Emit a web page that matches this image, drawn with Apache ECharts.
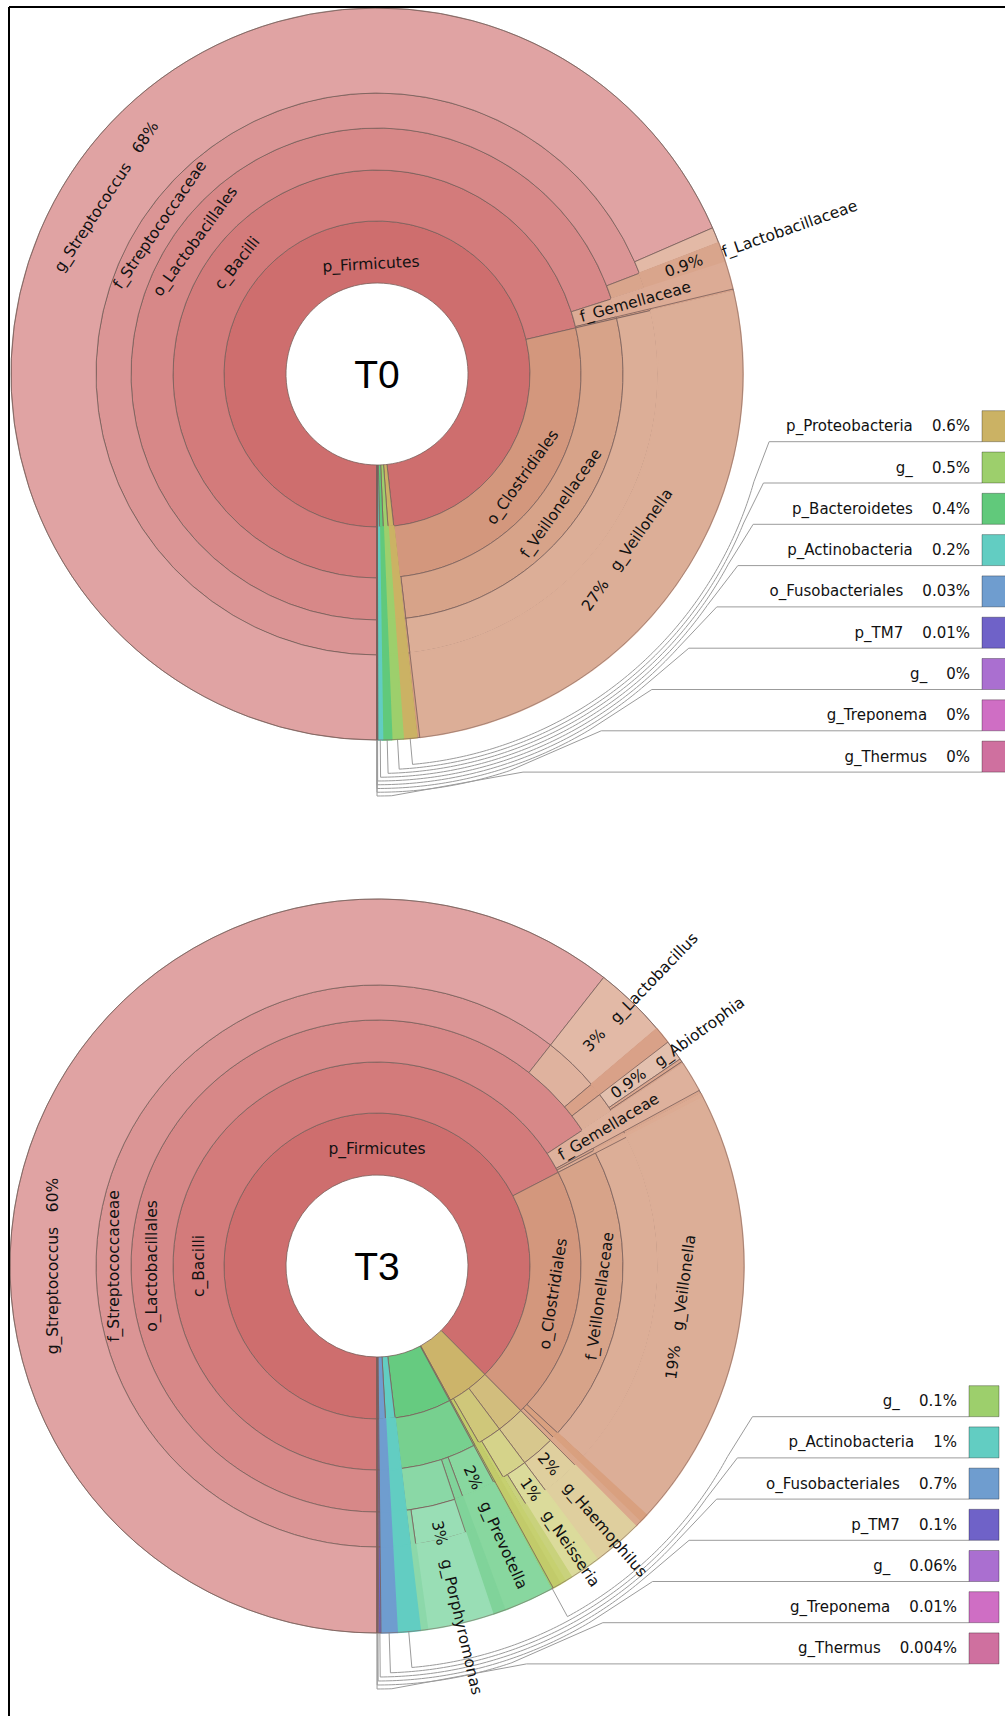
<!DOCTYPE html>
<html>
<head>
<meta charset="utf-8">
<script src="https://cdn.jsdelivr.net/npm/echarts@6/dist/echarts.min.js"></script>
<style>
  html, body { margin: 0; padding: 0; background: #fff; }
  #main { width: 1005px; height: 1716px; }
</style>
</head>
<body>
<div id="main"></div>
<script>
// ---- T0 taxonomy (percent of reads) ----
var t0Ids = ['fir', 'bac', 'lac', 'stc', 'str', 'stx', 'lbc', 'gem', 'bax', 'clo', 'vei', 'vel', 'clx',
  'pro', 'ung', 'bcd', 'act', 'fus', 'tm7', 'unp', 'tre', 'the'];
var t0Names = ['p_Firmicutes', 'c_Bacilli', 'o_Lactobacillales', 'f_Streptococcaceae', 'g_Streptococcus', 'g_',
  'f_Lactobacillaceae', 'f_Gemellaceae', 'o_', 'o_Clostridiales', 'f_Veillonellaceae', 'g_Veillonella', 'f_',
  'p_Proteobacteria', 'g_', 'p_Bacteroidetes', 'p_Actinobacteria', 'o_Fusobacteriales', 'p_TM7', 'g_',
  'g_Treponema', 'g_Thermus'];
var t0Parents = [null, 'fir', 'bac', 'lac', 'stc', 'stc', 'lac', 'bac', 'bac', 'fir', 'clo', 'vei', 'clo',
  null, null, null, null, null, null, null, null, null];
var t0Values = [null, null, null, null, 68.3, 0.7, 0.9, 1.2, 0.1, null, null, 26.7, 0.12,
  0.6, 0.5, 0.4, 0.2, 0.03, 0.01, 0.0004, 0.0003, 0.0003];
var t0Key = ['pro', 'ung', 'bcd', 'act', 'fus', 'tm7', 'unp', 'tre', 'the'];

// ---- T3 taxonomy (percent of reads) ----
var t3Ids = ['fir', 'bac', 'lac', 'stc', 'str', 'lbc', 'lbs', 'lfx', 'car', 'abi', 'cax', 'cay', 'gem', 'bax', 'bay',
  'clo', 'vei', 'vel', 'clx', 'cly',
  'pro', 'gam', 'pas', 'hae', 'bet', 'nei', 'nes', 'nex', 'bex', 'prx',
  'ung', 'bcd', 'bdi', 'pre', 'bdx', 'por', 'pph', 'pox',
  'act', 'fus', 'tm7', 'unp', 'tre', 'the'];
var t3Names = ['p_Firmicutes', 'c_Bacilli', 'o_Lactobacillales', 'f_Streptococcaceae', 'g_Streptococcus',
  'f_Lactobacillaceae', 'g_Lactobacillus', 'f_', 'f_Carnobacteriaceae', 'g_Abiotrophia', 'g_', 'g_',
  'f_Gemellaceae', 'o_', 'o_',
  'o_Clostridiales', 'f_Veillonellaceae', 'g_Veillonella', 'f_', 'f_',
  'p_Proteobacteria', 'c_Gammaproteobacteria', 'o_Pasteurellales', 'g_Haemophilus', 'c_Betaproteobacteria',
  'o_Neisseriales', 'g_Neisseria', 'g_', 'o_', 'c_',
  'g_', 'p_Bacteroidetes', 'c_Bacteroidia', 'g_Prevotella', 'o_', 'f_Porphyromonadaceae', 'g_Porphyromonas', 'g_',
  'p_Actinobacteria', 'o_Fusobacteriales', 'p_TM7', 'g_', 'g_Treponema', 'g_Thermus'];
var t3Parents = [null, 'fir', 'bac', 'lac', 'stc', 'lac', 'lbc', 'lac', 'lac', 'car', 'car', 'car', 'bac', 'bac', 'bac',
  'fir', 'clo', 'vei', 'clo', 'clo',
  null, 'pro', 'gam', 'pas', 'pro', 'bet', 'nei', 'nei', 'bet', 'pro',
  null, null, 'bcd', 'bdi', 'bdi', 'bdi', 'por', 'por',
  null, null, null, null, null, null];
var t3Values = [null, null, null, null, 60.4, null, 3.2, 0.75, null, 0.9, 0.14, 0.1, 1.35, 0.15, 0.2,
  null, null, 19.4, 0.4, 0.27,
  null, null, null, 2.2, null, null, 1.35, 0.32, 0.25, 0.35,
  0.1, null, null, 2.2, 0.55, null, 2.9, 0.32,
  1.0, 0.7, 0.1, 0.06, 0.01, 0.004];
var t3Key = ['ung', 'act', 'fus', 'tm7', 'unp', 'tre', 'the'];

// ---- colours ----
var t0Colors = {
  fir: '#ce6e6e', bac: '#d37b7b', lac: '#d78888', stc: '#db9595', str: '#e0a3a3', stx: '#e3b9a6',
  lbc: '#d9a58c', gem: '#dcab95', bax: '#d8a189', clo: '#d3977d', vei: '#d7a389', vel: '#dcae97', clx: '#d59c82',
  pro: '#cbb264', ung: '#9dcf6c', bcd: '#61c97b', act: '#62cdc2', fus: '#6f9dcf', tm7: '#6f62c8',
  unp: '#aa6fd0', tre: '#cf6ec4', the: '#cf709f'
};
var t3Colors = {
  fir: '#ce6e6e', bac: '#d37b7b', lac: '#d78888', stc: '#db9595', str: '#e0a3a3',
  lbc: '#dfb29e', lbs: '#e2b9a6', lfx: '#d9a188', car: '#dcae98', abi: '#e3c0ae', cax: '#dba78f', cay: '#d9a48b',
  gem: '#deb19c', bax: '#d9a68e', bay: '#dcab93',
  clo: '#d3977d', vei: '#d7a389', vel: '#dcae97', clx: '#d9a07f', cly: '#dba88c',
  pro: '#ccb46a', gam: '#d2bd7d', pas: '#d7c78d', hae: '#dfcf9e', bet: '#cfc77a', nei: '#d5d38a',
  nes: '#dbdb9b', nex: '#c9d27c', bex: '#c6d070', prx: '#c2cb6a',
  ung: '#9dcf6c', bcd: '#66cb80', bdi: '#77d08f', pre: '#88d79f', bdx: '#80d39a', por: '#8ad8a6',
  pph: '#99deb5', pox: '#8cd8aa',
  act: '#62cdc2', fus: '#6f9dcf', tm7: '#6f62c8', unp: '#aa6fd0', tre: '#cf6ec4', the: '#cf709f'
};

// ---- label placement (tan = along the ring, rad = along the radius) ----
var t0Labels = {
  fir: { t: 'tan', rOff: -12 }, bac: { t: 'tan' }, lac: { t: 'tan' }, stc: { t: 'tan' }, str: { t: 'tan', pct: true },
  lbc: { t: 'rad', pct: true, split: 21 }, gem: { t: 'rad', start: 7 },
  clo: { t: 'tan' }, vei: { t: 'tan' }, vel: { t: 'tan', pct: true }
};
var t3Labels = {
  fir: { t: 'tan', angle: 0, rOff: -5 }, bac: { t: 'tan', angle: 270 }, lac: { t: 'tan', angle: 270 },
  stc: { t: 'tan', angle: 270 }, str: { t: 'tan', angle: 270, pct: true },
  lbs: { t: 'rad', pct: true, start: 20 }, abi: { t: 'rad', pct: true, start: 10 }, gem: { t: 'rad', start: 9 },
  clo: { t: 'tan' }, vei: { t: 'tan' }, vel: { t: 'tan', pct: true },
  hae: { t: 'rad', pct: true, start: 4 }, nes: { t: 'rad', pct: true, start: 13 },
  pre: { t: 'rad', pct: true, start: 16 }, pph: { t: 'rad', pct: true, start: 16 }
};

var LABEL_FONT = '15.5px "DejaVu Sans"';
var KEY_FONT = '15px "DejaVu Sans"';
var GAP = '\u00a0\u00a0\u00a0';
var BORDER = '#7a5f5a';

var charts = [
  {
    title: 'T0', cx: 377, cy: 374, rings: [91, 153, 204, 246, 281, 366],
    ids: t0Ids, names: t0Names, parents: t0Parents, values: t0Values, colors: t0Colors, labels: t0Labels,
    key: t0Key, keyLine0: 441.7, keyStep: 41.3, boxX: 982, boxW: 31, boxH: 31, keyR0: 26, keyRStep: 3.75
  },
  {
    title: 'T3', cx: 377, cy: 1266, rings: [91, 153, 204, 246, 281, 367],
    ids: t3Ids, names: t3Names, parents: t3Parents, values: t3Values, colors: t3Colors, labels: t3Labels,
    key: t3Key, keyLine0: 1416.7, keyStep: 41.2, boxX: 969, boxW: 30, boxH: 31, keyR0: 32, keyRStep: 4
  }
];

function fmt(v) {
  if (v >= 1) return String(Math.round(v));
  if (v < 0.0005) return '0';
  return String(Number(v.toPrecision(1)));
}

// build the tree and the angles (clock degrees, 180 = six o'clock, clockwise)
function layoutTree(ids, names, parents, values) {
  var nodes = {}, roots = [];
  ids.forEach(function (id, i) {
    nodes[id] = { id: id, name: names[i], value: values[i], children: [] };
  });
  ids.forEach(function (id, i) {
    if (parents[i]) nodes[parents[i]].children.push(nodes[id]);
    else roots.push(nodes[id]);
  });
  function sum(n, depth) {
    n.depth = depth;
    if (n.children.length) {
      n.total = 0;
      n.children.forEach(function (c) { n.total += sum(c, depth + 1); });
    } else {
      n.total = n.value;
    }
    return n.total;
  }
  var grand = 0;
  roots.forEach(function (n) { grand += sum(n, 1); });
  function place(n, a0) {
    n.a0 = a0;
    n.a1 = a0 + n.total / grand * 360;
    var a = a0;
    n.children.forEach(function (c) { place(c, a); a = c.a1; });
  }
  var a = 180;
  roots.forEach(function (n) { place(n, a); a = n.a1; });
  return { nodes: nodes, roots: roots };
}

// leaves that stop early are carried out to the rim with same-coloured children
function ghost(v, color, d, maxDepth, thin) {
  var g = { name: '', value: v, itemStyle: thin ? { color: color } : { color: color, borderColor: color, borderWidth: 1.6 } };
  if (d < maxDepth) g.children = [ghost(v, color, d + 1, maxDepth, thin)];
  return g;
}

function toItem(n, colors, maxDepth) {
  var item = { name: n.name, itemStyle: { color: colors[n.id] } };
  if (n.children.length) {
    item.children = n.children.map(function (c) { return toItem(c, colors, maxDepth); });
  } else {
    item.value = n.value;
    var thin = (n.a1 - n.a0) < 0.6;
    if (n.depth < maxDepth) item.children = [ghost(n.value, colors[n.id], n.depth + 1, maxDepth, thin)];
  }
  return item;
}

function polar(cfg, r, deg) {
  var t = deg * Math.PI / 180;
  return [cfg.cx + r * Math.sin(t), cfg.cy - r * Math.cos(t)];
}

function textEl(p, rot, text, align) {
  return {
    type: 'text', x: p[0], y: p[1], rotation: rot, z: 100, silent: true,
    style: { text: text, font: LABEL_FONT, fill: '#111', textAlign: align, textVerticalAlign: 'middle' }
  };
}

function labelElements(cfg, lay) {
  var els = [];
  var R = cfg.rings[cfg.rings.length - 1];
  Object.keys(cfg.labels).forEach(function (id) {
    var n = lay.nodes[id], spec = cfg.labels[id];
    var r0 = cfg.rings[n.depth - 1];
    var r1 = n.children.length ? cfg.rings[n.depth] : R;
    var ang = spec.angle != null ? spec.angle : (n.a0 + n.a1) / 2;
    var t = ang * Math.PI / 180;
    var pct = fmt(n.total) + '%';
    if (spec.t === 'tan') {
      var dx = Math.cos(t), dy = Math.sin(t);
      var flip = dx < -1e-6 || (Math.abs(dx) <= 1e-6 && dy > 0);
      if (flip) { dx = -dx; dy = -dy; }
      var text = n.name;
      if (spec.pct) text = flip ? pct + GAP + n.name : n.name + GAP + pct;
      els.push(textEl(polar(cfg, (r0 + r1) / 2 + (spec.rOff || 0), ang), -Math.atan2(dy, dx), text, 'center'));
    } else {
      var rot = -Math.atan2(-Math.cos(t), Math.sin(t));
      if (spec.split) {
        // percentage inside the wedge, name running out past the rim
        els.push(textEl(polar(cfg, R - spec.split, ang), rot, pct, 'right'));
        els.push(textEl(polar(cfg, R, ang), rot, n.name, 'left'));
      } else {
        els.push(textEl(polar(cfg, r0 + spec.start, ang), rot, spec.pct ? pct + GAP + n.name : n.name, 'left'));
      }
    }
  });
  els.push({
    type: 'text', x: cfg.cx, y: cfg.cy, z: 100, silent: true,
    style: { text: cfg.title, font: '39px "Liberation Sans"', fill: '#000', textAlign: 'center', textVerticalAlign: 'middle' }
  });
  // thin rim around the whole chart
  els.push({
    type: 'circle', z: 50, silent: true, shape: { cx: cfg.cx, cy: cfg.cy, r: R },
    style: { fill: null, stroke: BORDER, lineWidth: 0.7, opacity: 0.8 }
  });
  return els;
}

function keyElements(cfg, lay) {
  var els = [];
  var R = cfg.rings[cfg.rings.length - 1];
  cfg.key.forEach(function (id, i) {
    var n = lay.nodes[id];
    var lineY = cfg.keyLine0 + i * cfg.keyStep;
    var ra = R + cfg.keyR0 + cfg.keyRStep * i;
    var tw = (((n.a0 + n.a1) / 2) % 360 + 360) % 360;
    var pts = [polar(cfg, R, tw), polar(cfg, ra, tw)];
    var c = (cfg.cy - (lineY + 40)) / ra;
    var tT = c < -1 ? tw - 2 : Math.min(tw - 2, Math.acos(c) * 180 / Math.PI);
    for (var a = tw; a > tT; a -= 0.5) pts.push(polar(cfg, ra, a));
    pts.push(polar(cfg, ra, tT));
    var dy = lineY - cfg.cy;
    var xs = cfg.cx + Math.sqrt(Math.max(ra * ra - dy * dy, 0)) + 6;
    pts.push([xs, lineY], [cfg.boxX, lineY]);
    els.push({
      type: 'polyline', shape: { points: pts }, z: 5, silent: true,
      style: { stroke: '#9b9b9b', lineWidth: 1, fill: null }
    });
    els.push({
      type: 'rect', z: 5, silent: true,
      shape: { x: cfg.boxX, y: lineY - cfg.boxH, width: cfg.boxW, height: cfg.boxH },
      style: { fill: cfg.colors[id], stroke: 'rgba(0,0,0,0.3)', lineWidth: 1 }
    });
    els.push({
      type: 'text', x: cfg.boxX - 12, y: lineY - cfg.boxH / 2, z: 5, silent: true,
      style: {
        text: n.name + '\u00a0\u00a0\u00a0\u00a0' + fmt(n.total) + '%', font: KEY_FONT, fill: '#111',
        textAlign: 'right', textVerticalAlign: 'middle'
      }
    });
  });
  return els;
}

var series = [];
var elements = [
  { type: 'line', z: 100, silent: true, shape: { x1: 9, y1: 7, x2: 1005, y2: 7 }, style: { stroke: '#000', lineWidth: 2 } },
  { type: 'line', z: 100, silent: true, shape: { x1: 9, y1: 7, x2: 9, y2: 1716 }, style: { stroke: '#000', lineWidth: 2 } }
];

charts.forEach(function (cfg) {
  var lay = layoutTree(cfg.ids, cfg.names, cfg.parents, cfg.values);
  var maxDepth = cfg.rings.length - 1;
  var levels = [{}];
  for (var d = 1; d <= maxDepth; d++) levels.push({ r0: cfg.rings[d - 1], r: cfg.rings[d] });
  series.push({
    type: 'sunburst',
    center: [cfg.cx, cfg.cy],
    radius: [cfg.rings[0], cfg.rings[maxDepth]],
    startAngle: -90,
    clockwise: true,
    sort: null,
    nodeClick: false,
    silent: true,
    label: { show: false },
    itemStyle: { borderColor: BORDER, borderWidth: 0.8 },
    emphasis: { disabled: true },
    levels: levels,
    data: lay.roots.map(function (n) { return toItem(n, cfg.colors, maxDepth); })
  });
  elements = elements.concat(keyElements(cfg, lay), labelElements(cfg, lay));
});

var chart = echarts.init(document.getElementById('main'), null, { renderer: 'svg', width: 1005, height: 1716 });
chart.setOption({
  animation: false,
  backgroundColor: '#fff',
  series: series,
  graphic: { elements: elements }
});
</script>
</body>
</html>
